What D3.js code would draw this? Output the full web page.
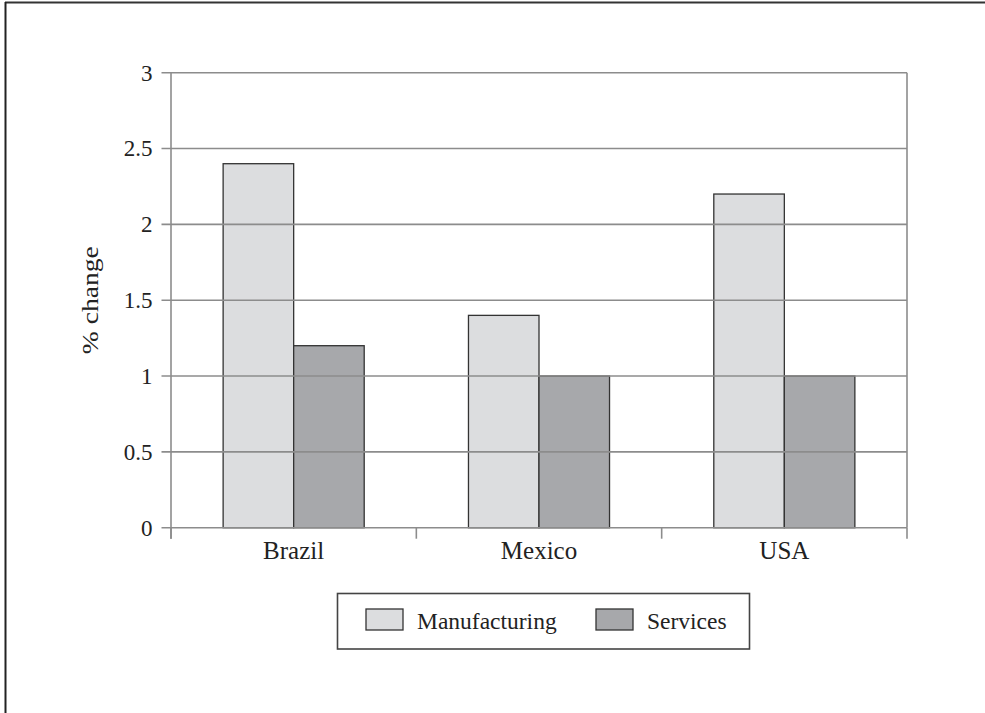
<!DOCTYPE html>
<html><head><meta charset="utf-8">
<script src="https://cdn.jsdelivr.net/npm/d3@7"></script>
<style>html,body{margin:0;padding:0;background:#fff;}svg{display:block;}</style>
</head><body>
<script>
const categories = ["Brazil", "Mexico", "USA"];
const seriesNames = ["Manufacturing", "Services"];
const manufacturing = [2.4, 1.4, 2.2];
const services = [1.2, 1.0, 1.0];
const yTicks = [0, 0.5, 1, 1.5, 2, 2.5, 3];
const colors = ["#dcdddf", "#a7a8ab"];

const W = 985, H = 713;
const svg = d3.select("body").append("svg").attr("width", W).attr("height", H);
const font = "'Liberation Serif','Times New Roman',serif";

// outer frame
svg.append("line").attr("x1", 5).attr("x2", W).attr("y1", 2.5).attr("y2", 2.5).attr("stroke", "#333").attr("stroke-width", 2);
svg.append("line").attr("x1", 5.5).attr("x2", 5.5).attr("y1", 2).attr("y2", H).attr("stroke", "#222").attr("stroke-width", 2);

const L = 171, R = 907, T = 72.7, B = 527.7;
const y = d3.scaleLinear().domain([0, 3]).range([B, T]);
const x0 = d3.scaleBand().domain(categories).range([L, R]).paddingInner(0.425).paddingOuter(0.2125);
const x1 = d3.scaleBand().domain(seriesNames).range([0, x0.bandwidth()]);
const data = categories.map((c, i) => ({cat: c, vals: [manufacturing[i], services[i]]}));

const gridCol = "#8c8c8c";

// bars
const g = svg.append("g");
data.forEach(d => {
  d.vals.forEach((v, j) => {
    g.append("rect")
      .attr("x", x0(d.cat) + x1(seriesNames[j]))
      .attr("y", y(v))
      .attr("width", x1.bandwidth())
      .attr("height", y(0) - y(v))
      .attr("fill", colors[j])
      .attr("stroke", "#333")
      .attr("stroke-width", 1.3);
  });
});

// gridlines over bars
svg.append("g").selectAll("line").data(yTicks).join("line")
  .attr("x1", L - 9.5).attr("x2", R)
  .attr("y1", d => y(d)).attr("y2", d => y(d))
  .attr("stroke", gridCol).attr("stroke-width", 1.6);

// right border
svg.append("line").attr("x1", R).attr("x2", R).attr("y1", T).attr("y2", B).attr("stroke", gridCol).attr("stroke-width", 1.6);

// y axis
const yAxis = d3.axisLeft(y).tickValues(yTicks).tickSize(9.5).tickPadding(9).tickFormat(d => String(d));
const ya = svg.append("g").attr("transform", `translate(${L},0)`).call(yAxis);
ya.select(".domain").remove();
ya.selectAll("line").remove();
ya.selectAll("text").attr("font-family", font).attr("font-size", 23).attr("fill", "#222");
svg.append("line").attr("x1", L).attr("x2", L).attr("y1", T).attr("y2", B + 11).attr("stroke", gridCol).attr("stroke-width", 1.6);

// x axis: boundary ticks
const bounds = [0, 1, 2, 3].map(i => L + (R - L) * i / 3);
svg.append("g").selectAll("line").data(bounds).join("line")
  .attr("x1", d => d).attr("x2", d => d).attr("y1", B).attr("y2", B + 11)
  .attr("stroke", gridCol).attr("stroke-width", 1.6);
const xAxis = d3.axisBottom(x0).tickSize(0).tickPadding(14);
const xa = svg.append("g").attr("transform", `translate(0,${B})`).call(xAxis);
xa.select(".domain").remove();
xa.selectAll("text").attr("font-family", font).attr("font-size", 25).attr("fill", "#222");

// y title
svg.append("text").attr("transform", `translate(98,${(T + B) / 2}) rotate(-90)`)
  .attr("text-anchor", "middle").attr("font-family", font).attr("font-size", 23).attr("fill", "#222")
  .attr("textLength", 108).attr("lengthAdjust", "spacingAndGlyphs")
  .text("% change");

// legend
const lg = svg.append("g");
lg.append("rect").attr("x", 337.5).attr("y", 593.5).attr("width", 412).attr("height", 55.5)
  .attr("fill", "#fff").attr("stroke", "#444").attr("stroke-width", 1.6);
const legX = [366, 596];
seriesNames.forEach((s, j) => {
  lg.append("rect").attr("x", legX[j]).attr("y", 609).attr("width", 37).attr("height", 21)
    .attr("fill", colors[j]).attr("stroke", "#333").attr("stroke-width", 1.3);
  lg.append("text").attr("x", legX[j] + 51).attr("y", 629).attr("font-family", font)
    .attr("font-size", 23.5).attr("fill", "#222").text(s);
});
</script>
</body></html>
